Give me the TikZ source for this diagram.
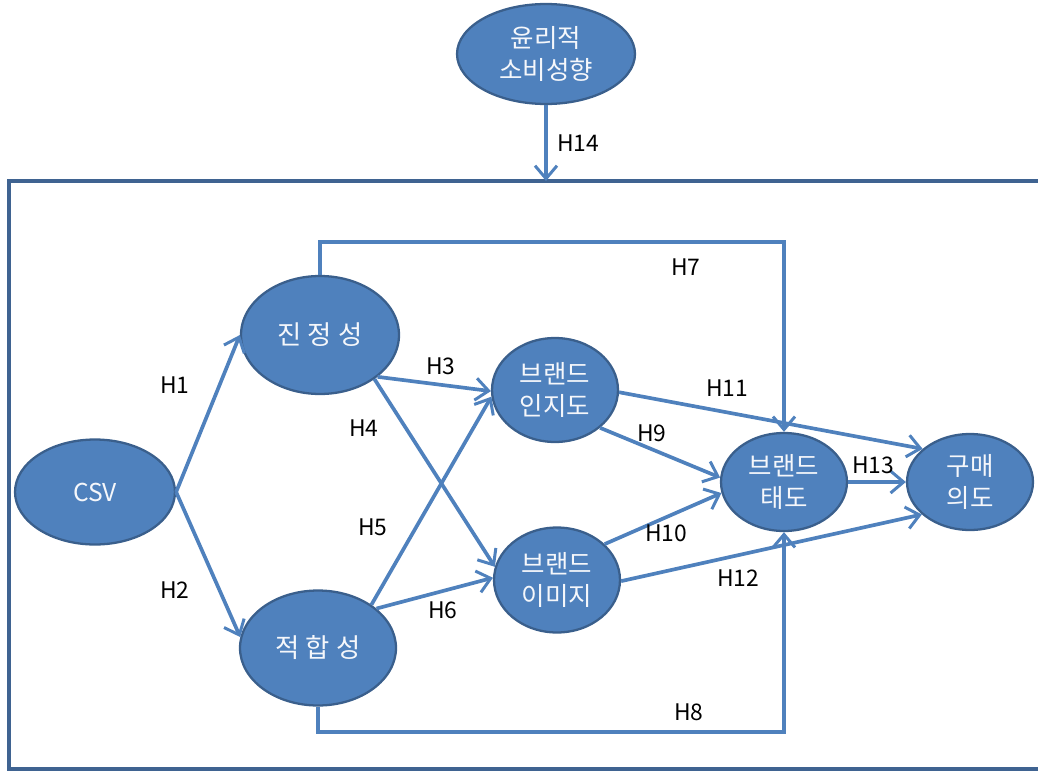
\documentclass[tikz,border=0pt]{standalone}
\usepackage{fontspec}
\setmainfont{Noto Sans CJK KR}
\usetikzlibrary{shapes.geometric,arrows.meta}
\definecolor{nodefill}{HTML}{4F81BD}
\definecolor{nodeborder}{HTML}{3A5F8C}
\definecolor{conn}{HTML}{4F81BD}
\definecolor{frame}{HTML}{3F6391}
\tikzset{
  bub/.style={ellipse, fill=nodefill, draw=nodeborder, line width=1.3pt,
    text=white!94!nodefill, align=center, inner sep=0pt, font=\fontsize{14.5}{18.5}\selectfont},
  conn/.style={draw=conn, line width=2.1pt,
    -{Straight Barb[length=2.6mm,width=4.4mm,line width=1.7pt]}},
  hlab/.style={font=\fontsize{13}{15}\selectfont, text=black, inner sep=0pt}
}
\begin{document}
\begin{tikzpicture}[x=0.02cm,y=-0.02cm]
\useasboundingbox (0,0) rectangle (1038,771);
% frame
\coordinate (fa) at (1040,181);
\coordinate (fb) at (9,181);
\coordinate (fc) at (9,769);
\coordinate (fd) at (1040,769);
\draw[frame, line width=2.2pt] (fa) -- (fb) -- (fc) -- (fd);

% nodes
\node[bub, minimum width=3.56cm, minimum height=2.0cm] (eth) at (546,54) {윤리적\\소비성향};
\node[bub, minimum width=3.2cm, minimum height=2.1cm, font=\fontsize{14}{18}\selectfont] (csv) at (95,492) {CSV};
\node[bub, minimum width=3.16cm, minimum height=2.36cm, font=\fontsize{15}{18}\selectfont] (jin) at (320,335) {진 정 성};
\node[bub, minimum width=3.12cm, minimum height=2.3cm, font=\fontsize{15}{18}\selectfont] (jeok) at (318,648) {적 합 성};
\node[bub, minimum width=2.52cm, minimum height=2.08cm] (ink) at (555,390) {브랜드\\인지도};
\node[bub, minimum width=2.52cm, minimum height=2.1cm] (img) at (557,580) {브랜드\\이미지};
\node[bub, minimum width=2.52cm, minimum height=1.96cm] (tado) at (784,482) {브랜드\\태도};
\node[bub, minimum width=2.52cm, minimum height=1.92cm] (gumae) at (970,482) {구매\\의도};

% connectors
\coordinate (top14) at (546,181);
\draw[conn] (eth.south) -- (top14);
\draw[conn] (csv.east) -- (jin.west);
\draw[conn] (csv.east) -- (jeok.172);
\draw[conn] (jin.-36) -- (ink.181);
\draw[conn] (jin.-39) -- (img.168);
\draw[conn] (jeok.39) -- (ink.186);
\draw[conn] (jeok.34) -- (img.178);
\coordinate (h7) at (784,242);
\draw[conn] (jin.north) |- (h7) -- (tado.north);
\coordinate (h8) at (784,732);
\draw[conn] (jeok.south) |- (h8) -- (tado.south);
\draw[conn] (ink.-40) -- (tado.176);
\draw[conn] (img.37) -- (tado.190);
\draw[conn] (ink.-2) -- (gumae.145);
\draw[conn] (img.-1) -- (gumae.214);
\draw[conn] (tado.east) -- (gumae.west);

% labels
\node[hlab] (l14) at (578,143) {H14};
\node[hlab] (l7) at (686,267) {H7};
\node[hlab] (l1) at (175,385) {H1};
\node[hlab] (l3) at (441,366) {H3};
\node[hlab] (l4) at (364,428) {H4};
\node[hlab] (l11) at (727,388) {H11};
\node[hlab] (l9) at (652,433) {H9};
\node[hlab] (l13) at (873,465) {H13};
\node[hlab] (l5) at (373,527) {H5};
\node[hlab] (l10) at (666,533) {H10};
\node[hlab] (l2) at (175,590) {H2};
\node[hlab] (l12) at (738,578) {H12};
\node[hlab] (l6) at (443,610) {H6};
\node[hlab] (l8) at (689,712) {H8};
\end{tikzpicture}
\end{document}
